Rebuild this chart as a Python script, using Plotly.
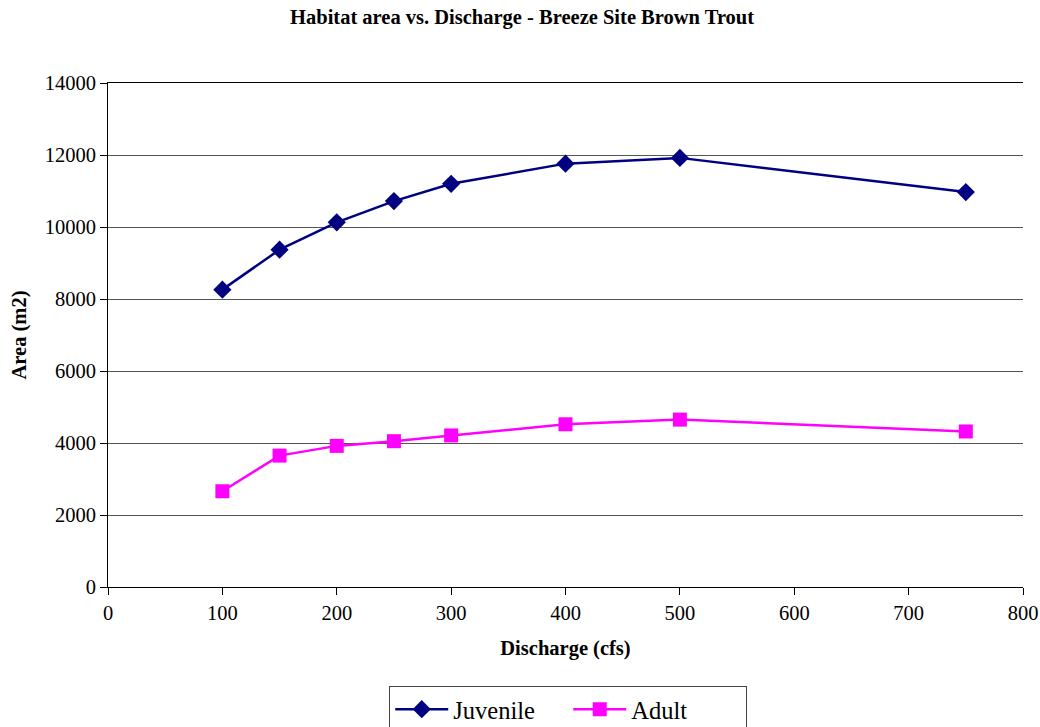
import plotly.graph_objects as go

discharge = [100, 150, 200, 250, 300, 400, 500, 750]
juvenile = [8260, 9370, 10130, 10720, 11200, 11760, 11920, 10970]
adult = [2660, 3650, 3920, 4050, 4210, 4520, 4650, 4320]

FONT = "Liberation Serif, Times New Roman, serif"

fig = go.Figure()
fig.add_trace(go.Scatter(
    x=discharge, y=juvenile, name="Juvenile", mode="lines+markers",
    line=dict(color="#000080", width=2.5),
    marker=dict(symbol="diamond", size=14, color="#000080"),
))
fig.add_trace(go.Scatter(
    x=discharge, y=adult, name="Adult", mode="lines+markers",
    line=dict(color="#FF00FF", width=2.5),
    marker=dict(symbol="square", size=14, color="#FF00FF"),
))

fig.update_layout(
    width=1040, height=727,
    paper_bgcolor="white", plot_bgcolor="white",
    margin=dict(l=108, r=17, t=83, b=140, autoexpand=False),
    font=dict(family=FONT, color="black", size=20.5),
    title=dict(text="<b>Habitat area vs. Discharge - Breeze Site Brown Trout</b>",
               x=0.502, xanchor="center", y=0.977, yanchor="middle",
               font=dict(family=FONT, size=20.5)),
    showlegend=True,
    legend=dict(orientation="h", x=0.503, xanchor="center", y=-0.196, yanchor="top",
                bordercolor="#444444", borderwidth=1, bgcolor="white",
                font=dict(family=FONT, size=24.5), itemwidth=53,
                entrywidthmode="pixels", entrywidth=110),
)
fig.update_xaxes(
    range=[0, 800], dtick=100, tick0=0,
    showgrid=False, zeroline=False, automargin=False,
    showline=True, linecolor="black", linewidth=1, mirror=True,
    ticks="outside", ticklen=7, tickcolor="black", ticklabeloverflow="allow",
    tickfont=dict(family=FONT, size=20.5),
    title=dict(text="<b>Discharge (cfs)</b>", font=dict(family=FONT, size=20.5), standoff=18),
)
fig.update_yaxes(
    range=[0, 14000], dtick=2000, tick0=0, tickformat="d",
    showgrid=True, gridcolor="#555555", gridwidth=1, zeroline=False, automargin=False,
    showline=True, linecolor="black", linewidth=1,
    ticks="outside", ticklen=7, tickcolor="black",
    tickfont=dict(family=FONT, size=20.5),
    title=dict(text="<b>Area (m2)</b>", font=dict(family=FONT, size=20.5), standoff=12),
)

fig.write_html("out.html",
               config={"displayModeBar": False},
               post_script="document.body.style.margin='0';document.body.style.overflow='hidden';")
